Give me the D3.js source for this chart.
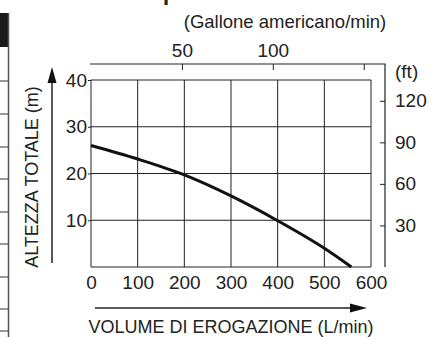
<!DOCTYPE html>
<html>
<head>
<meta charset="utf-8">
<script src="https://cdn.jsdelivr.net/npm/d3@7"></script>
<style>
  html, body { margin: 0; padding: 0; background: #fff; }
  svg { display: block; }
  text { font-family: "Liberation Sans", Arial, Helvetica, sans-serif; fill: #222; }
</style>
</head>
<body>
<svg id="chart" width="431" height="337"></svg>
<script>
// Pump performance curve: total head vs. delivery volume
const flowLpm = [0, 100, 200, 300, 400, 500, 558];
const headM   = [26.0, 23.1, 19.7, 15.2, 9.9, 4.0, 0];

const flowTicks = [0, 100, 200, 300, 400, 500, 600];
const headTicks = [10, 20, 30, 40];
const galTicks = [50, 100, 150];
const galLabels = ["50", "100", ""];
const ftTicks = [30, 60, 90, 120];

// Neighbouring table edge (left margin)
const tableRows = [81, 114, 147, 179, 212, 244, 277, 309, 331];

const svg = d3.select("#chart");
const ink = "#222";

const plotL = 91, plotR = 371, plotT = 80, plotB = 267;

const x = d3.scaleLinear().domain([0, 600]).range([plotL, plotR]);
const y = d3.scaleLinear().domain([0, 40]).range([plotB, plotT]);
const xGal = d3.scaleLinear().domain([0, 154]).range([plotL, plotR]);
const yFt = d3.scaleLinear().domain([0, 135]).range([plotB, plotT]);

// table fragment
svg.append("rect").attr("x", 0).attr("y", 13).attr("width", 8).attr("height", 34).attr("fill", "#1a1a1a");
svg.append("line").attr("x1", 8.5).attr("x2", 8.5).attr("y1", 13).attr("y2", 337)
  .attr("stroke", "#555").attr("stroke-width", 1.5);
svg.selectAll("line.trow").data(tableRows).join("line").attr("class", "trow")
  .attr("x1", 0).attr("x2", 8).attr("y1", d => d).attr("y2", d => d)
  .attr("stroke", "#555").attr("stroke-width", 1.2);

// title descender
svg.append("text").attr("x", 163).attr("y", -0.5)
  .attr("font-size", 22).attr("font-weight", "bold").text("p");

// grid
const grid = svg.append("g").attr("stroke", ink).attr("stroke-width", 1);
grid.selectAll("line.vx").data(flowTicks).join("line").attr("class", "vx")
  .attr("x1", d => x(d)).attr("x2", d => x(d)).attr("y1", plotT).attr("y2", plotB);
grid.selectAll("line.hy").data([0].concat(headTicks)).join("line").attr("class", "hy")
  .attr("x1", plotL).attr("x2", plotR).attr("y1", d => y(d)).attr("y2", d => y(d));

const fontFam = "Liberation Sans, Arial, sans-serif";

// left axis: small outward ticks and labels
const yAxis = d3.axisLeft(y).tickValues(headTicks).tickSize(3).tickPadding(1);
const gy = svg.append("g").attr("transform", `translate(${plotL},0)`).call(yAxis);
gy.select(".domain").remove();
gy.selectAll(".tick line").attr("stroke", ink);
gy.selectAll(".tick text").attr("font-size", 19).attr("fill", ink).attr("font-family", fontFam);

// bottom labels
const xAxis = d3.axisBottom(x).tickValues(flowTicks).tickSize(0).tickPadding(9);
const gx = svg.append("g").attr("transform", `translate(0,${plotB})`).call(xAxis);
gx.select(".domain").remove();
gx.selectAll(".tick text").attr("font-size", 19).attr("fill", ink).attr("font-family", fontFam);

// top axis (US gallons per minute)
const galAxis = d3.axisTop(xGal).tickValues(galTicks).tickSize(-6).tickPadding(7)
  .tickFormat((d, i) => galLabels[i]);
const gg = svg.append("g").attr("transform", "translate(0,64)").call(galAxis);
gg.select(".domain").remove();
gg.selectAll(".tick line").attr("stroke", ink);
gg.selectAll(".tick text").attr("font-size", 19).attr("fill", ink).attr("font-family", fontFam);

// right axis (feet)
const ftAxis = d3.axisRight(yFt).tickValues(ftTicks).tickSize(-5).tickPadding(10);
const gf = svg.append("g").attr("transform", "translate(385,0)").call(ftAxis);
gf.select(".domain").remove();
gf.selectAll(".tick line").attr("stroke", ink);
gf.selectAll(".tick text").attr("font-size", 19).attr("fill", ink).attr("font-family", fontFam);

// secondary frame: top and right scale lines
svg.append("path")
  .attr("d", `M${plotL - 1},64 H385 V${plotB}`)
  .attr("fill", "none").attr("stroke", ink).attr("stroke-width", 1.2);

// performance curve
const pts = flowLpm.map((f, i) => [f, headM[i]]);
svg.append("path").datum(pts)
  .attr("d", d3.line().x(d => x(d[0])).y(d => y(d[1])).curve(d3.curveMonotoneX))
  .attr("fill", "none").attr("stroke", "#111").attr("stroke-width", 3);

// unit labels
svg.append("text").attr("x", 285).attr("y", 28).attr("text-anchor", "middle")
  .attr("font-size", 18.5).text("(Gallone americano/min)");
svg.append("text").attr("x", 395).attr("y", 78).attr("font-size", 19).text("(ft)");

// axis titles with arrows
svg.append("line").attr("x1", 52).attr("x2", 52).attr("y1", 263).attr("y2", 80)
  .attr("stroke", ink).attr("stroke-width", 1.5);
svg.append("path").attr("d", "M52,67 L56.5,83 L47.5,83 Z").attr("fill", "#111");
svg.append("text").attr("transform", "translate(38,177) rotate(-90)")
  .attr("text-anchor", "middle").attr("font-size", 18).text("ALTEZZA TOTALE (m)");

svg.append("line").attr("x1", 95).attr("x2", 352).attr("y1", 308).attr("y2", 308)
  .attr("stroke", ink).attr("stroke-width", 1.5);
svg.append("path").attr("d", "M367,308 L350,303.5 L350,312.5 Z").attr("fill", "#111");
svg.append("text").attr("x", 231).attr("y", 333).attr("text-anchor", "middle")
  .attr("font-size", 18).text("VOLUME DI EROGAZIONE (L/min)");
</script>
</body>
</html>
